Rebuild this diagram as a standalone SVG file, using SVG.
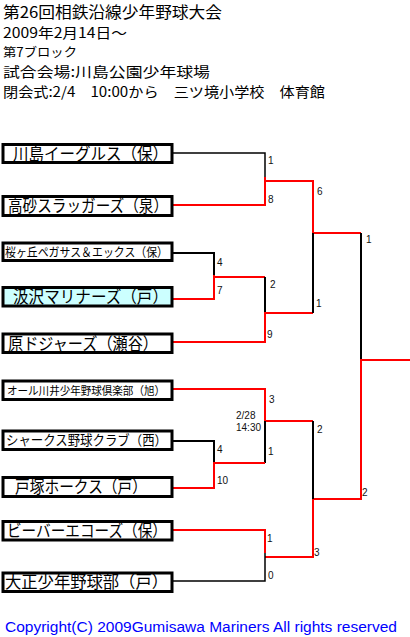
<svg xmlns="http://www.w3.org/2000/svg" width="410" height="637" viewBox="0 0 410 637">
<style>
.hd{font-family:"Noto Sans CJK JP","Noto Sans",sans-serif;fill:#000}
.nm{font-family:"Noto Sans CJK JP","Noto Sans",sans-serif;fill:#000}
.box{fill:#fff;stroke:#000;stroke-width:3}
.sc{font-family:"Liberation Sans",Arial,sans-serif;font-size:10px;fill:#111}
.k{stroke:#000;stroke-width:2;fill:none}
.kt{stroke:#000;stroke-width:1.5;fill:none}
.r{stroke:#ff0000;stroke-width:2;fill:none}
.cp{font-family:"Liberation Sans",Arial,sans-serif;font-size:14px;fill:#0000ff}
</style>
<rect width="410" height="637" fill="#fff"/>
<g id="header">
<text class="hd" x="3" y="18" font-size="15.5" textLength="219" lengthAdjust="spacingAndGlyphs">第26回相鉄沿線少年野球大会</text>
<text class="hd" x="3" y="38" font-size="14" textLength="124" lengthAdjust="spacingAndGlyphs">2009年2月14日～</text>
<text class="hd" x="3" y="56.5" font-size="12.5" textLength="74" lengthAdjust="spacingAndGlyphs">第7ブロック</text>
<text class="hd" x="3" y="77" font-size="14" textLength="207" lengthAdjust="spacingAndGlyphs">試合会場:川島公園少年球場</text>
<text class="hd" x="3" y="97" font-size="14" textLength="322" lengthAdjust="spacingAndGlyphs">閉会式:2/4　10:00から　三ツ境小学校　体育館</text>
</g>
<g id="connectors">
<polyline class="kt" points="173,153 265,153 265,177"/>
<polyline class="r" points="173,205 265,205 265,177"/>
<polyline class="r" points="265,181 313,181 313,233 361,233"/>
<polyline class="k" points="173,253 214,253 214,275"/>
<polyline class="r" points="173,299 214,299 214,275"/>
<polyline class="r" points="214,277 265,277"/>
<line class="k" x1="265" y1="277" x2="265" y2="312"/>
<polyline class="r" points="173,342 265,342 265,312"/>
<polyline class="r" points="265,313 313,313"/>
<line class="k" x1="313" y1="233" x2="313" y2="313"/>
<line class="k" x1="361" y1="233" x2="361" y2="360"/>
<polyline class="r" points="410,360 361,360 361,499 313,499"/>
<polyline class="r" points="173,389 265,389 265,421 313,421"/>
<line class="k" x1="265" y1="421" x2="265" y2="463"/>
<polyline class="k" points="173,441 214,441 214,465"/>
<polyline class="r" points="173,488 214,488 214,463 265,463"/>
<line class="k" x1="313" y1="421" x2="313" y2="499"/>
<polyline class="r" points="313,499 313,557 265,557"/>
<polyline class="r" points="173,530 265,530 265,553"/>
<polyline class="kt" points="173,581 265,581 265,553"/>
<text class="sc" x="268" y="164">1</text>
<text class="sc" x="268" y="203">8</text>
<text class="sc" x="317" y="195">6</text>
<text class="sc" x="366" y="243">1</text>
<text class="sc" x="217" y="266">4</text>
<text class="sc" x="217" y="294">7</text>
<text class="sc" x="270" y="288">2</text>
<text class="sc" x="267" y="338">9</text>
<text class="sc" x="316" y="307">1</text>
<text class="sc" x="269" y="403">3</text>
<text class="sc" x="236" y="419" font-size="11">2/28</text>
<text class="sc" x="236" y="431" font-size="11">14:30</text>
<text class="sc" x="317" y="433">2</text>
<text class="sc" x="268" y="455">1</text>
<text class="sc" x="217" y="453">4</text>
<text class="sc" x="217" y="484">10</text>
<text class="sc" x="267" y="542">1</text>
<text class="sc" x="268" y="579">0</text>
<text class="sc" x="314" y="556">3</text>
<text class="sc" x="362" y="496">2</text>
</g>
<g id="team1"><rect class="box" x="3" y="144.5" width="169" height="18"/><text class="nm" x="13" y="159.8" font-size="16.5" textLength="155" lengthAdjust="spacingAndGlyphs">川島イーグルス（保）</text></g>
<g id="team2"><rect class="box" x="3" y="196.5" width="169" height="19"/><text class="nm" x="8" y="212.3" font-size="16.5" textLength="160" lengthAdjust="spacingAndGlyphs">高砂スラッガーズ（泉）</text></g>
<g id="team3"><rect class="box" x="3" y="243" width="169" height="17.5"/><text class="nm" x="5" y="256.5" font-size="12.5" textLength="163" lengthAdjust="spacingAndGlyphs">桜ヶ丘ペガサス＆エックス（保）</text></g>
<g id="team4"><rect class="box" x="3" y="287.5" width="169" height="18.5" style="fill:#ccffff"/><text class="nm" x="13" y="303" font-size="16.5" textLength="155" lengthAdjust="spacingAndGlyphs">汲沢マリナーズ（戸）</text></g>
<g id="team5"><rect class="box" x="3" y="334" width="169" height="18.5"/><text class="nm" x="8" y="349.5" font-size="16.5" textLength="150" lengthAdjust="spacingAndGlyphs">原ドジャーズ（瀬谷）</text></g>
<g id="team6"><rect class="box" x="3" y="381" width="169" height="18.5"/><text class="nm" x="7" y="394.5" font-size="11.5" textLength="158" lengthAdjust="spacingAndGlyphs">オール川井少年野球倶楽部（旭）</text></g>
<g id="team7"><rect class="box" x="3" y="431" width="169" height="18.5"/><text class="nm" x="6" y="445" font-size="13.5" textLength="161" lengthAdjust="spacingAndGlyphs">シャークス野球クラブ（西）</text></g>
<g id="team8"><rect class="box" x="3" y="477.5" width="169" height="19"/><text class="nm" x="15" y="493.3" font-size="16.5" textLength="132" lengthAdjust="spacingAndGlyphs">戸塚ホークス（戸）</text></g>
<g id="team9"><rect class="box" x="3" y="521.5" width="169" height="18.5"/><text class="nm" x="7" y="537" font-size="16.5" textLength="160" lengthAdjust="spacingAndGlyphs">ビーバーエコーズ（保）</text></g>
<g id="team10"><rect class="box" x="3" y="573" width="169" height="18.5"/><text class="nm" x="5" y="588.3" font-size="16.5" textLength="163" lengthAdjust="spacingAndGlyphs">大正少年野球部（戸）</text></g>
<text class="cp" x="5" y="632" textLength="392" lengthAdjust="spacingAndGlyphs">Copyright(C) 2009Gumisawa Mariners All rights reserved</text>
</svg>
